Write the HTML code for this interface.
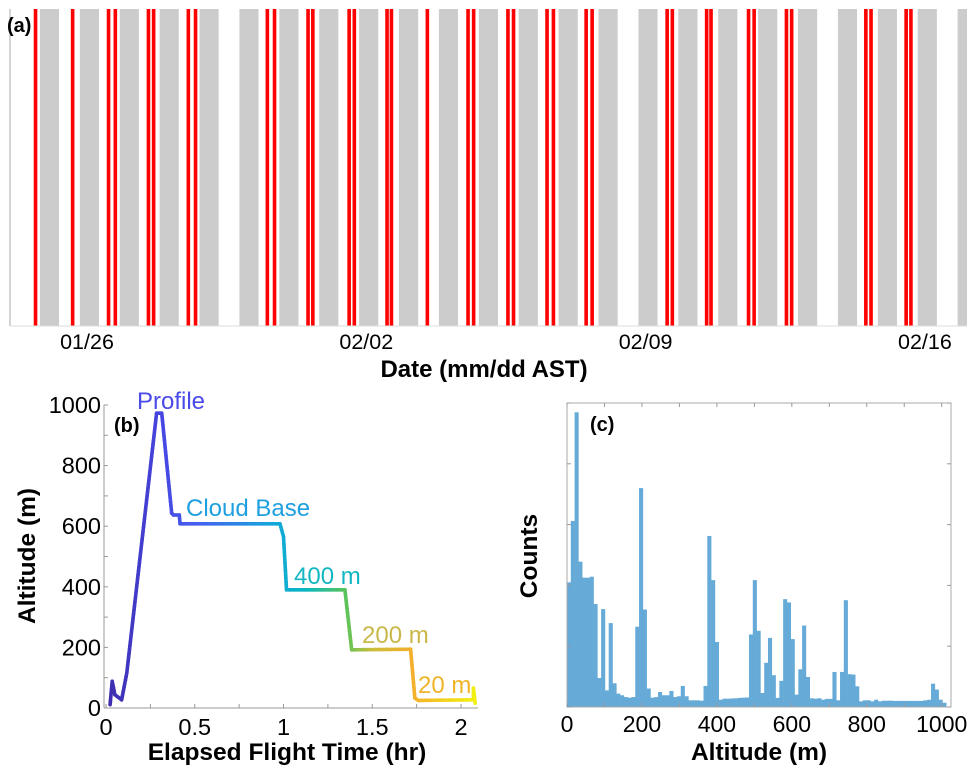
<!DOCTYPE html>
<html><head><meta charset="utf-8">
<style>
html,body{margin:0;padding:0;background:#fff;}
svg{display:block;font-family:"Liberation Sans",Arial,sans-serif;}
</style></head>
<body>
<svg id="fig" width="978" height="774" viewBox="0 0 978 774" xmlns="http://www.w3.org/2000/svg">
  <g id="pa"></g>
  <g id="pb"></g>
  <g id="pc"></g>
</svg>
<script>
// ---------- Panel (a) data: days relative to 01/26 00:00 ----------
const nightStarts = [-1.18,-0.18,0.82,1.82,2.82,3.82,4.82,5.82,6.82,7.82,8.82,9.82,10.82,11.82,12.82,13.82,14.82,15.82,16.82,17.82,18.82,19.82,20.82,21.82];
const nightDur = 0.48;
const flightTimes = [-1.29,-0.36,0.54,0.71,1.54,1.67,2.54,2.72,4.52,4.70,5.54,5.66,6.57,6.70,7.52,7.63,8.53,9.55,9.69,10.55,10.69,11.53,11.69,12.51,12.66,14.54,14.67,15.53,15.64,16.58,16.72,17.53,17.66,19.52,19.65,20.53,20.65];
const dateTickDays = [0,7,14,21];
const dateTickLabels = ["01/26","02/02","02/09","02/16"];

// ---------- Panel (b) data ----------
const flightHr = [0.023,0.035,0.05,0.088,0.09,0.117,0.285,0.314,0.37,0.38,0.413,0.417,0.98,1.0,1.017,1.346,1.384,1.716,1.74,1.76,2.07,2.07,2.08];
const flightAlt = [11,88,44,27,33,115,973,973,643,637,637,608,608,566,390,390,192,194,33,25,27,66,16];
const bXTicks = [0,0.5,1,1.5,2];
const bXTickLabels = ["0","0.5","1","1.5","2"];
const bYTicks = [0,200,400,600,800,1000];
const bYTickLabels = ["0","200","400","600","800","1000"];

// ---------- Panel (c) data ----------
const histCounts = [615,918,1454,717,638,638,643,508,143,483,82,414,117,66,58,49,46,49,396,1080,481,91,46,49,74,58,58,79,49,53,104,53,33,33,33,31,104,844,626,321,36,41,41,42,43,45,46,47,358,626,376,69,218,341,157,45,129,532,516,335,61,186,402,148,43,41,43,36,40,40,173,33,173,527,162,160,102,28,33,33,28,36,28,31,31,31,30,30,30,30,30,30,30,30,33,36,115,86,36,21];
const histBinWidth = 10.12;
const cXTicks = [0,200,400,600,800,1000];
const cXTickLabels = ["0","200","400","600","800","1000"];

const NS="http://www.w3.org/2000/svg";
function mk(parent,tag,attrs,text){const e=document.createElementNS(NS,tag);for(const k in attrs)e.setAttribute(k,attrs[k]);if(text!==undefined)e.textContent=text;parent.appendChild(e);return e;}

// ===== Panel A =====
(function(){
  const g=document.getElementById('pa');
  const L=10,R=967,T=9,B=326;
  const xA=d=>87+39.9*d;
  const clip=mk(g,'clipPath',{id:'clipA'});mk(clip,'rect',{x:L,y:T,width:R-L,height:B-T});
  const inner=mk(g,'g',{'clip-path':'url(#clipA)'});
  nightStarts.forEach(s=>{
    const r=mk(inner,'rect',{x:xA(s),y:T,width:xA(s+nightDur)-xA(s),height:B-T,fill:'#cccccc'});
    
    
  });
  flightTimes.forEach(s=>{
    const r=mk(inner,'rect',{x:xA(s)-1.8,y:T,width:3.6,height:B-T,fill:'#ff0000'});
    
    
  });
  mk(g,'line',{x1:L,y1:T,x2:L,y2:B,stroke:'#aaaaaa','stroke-width':1});
  mk(g,'line',{x1:L,y1:B,x2:R,y2:B,stroke:'#dddddd','stroke-width':1});
  dateTickDays.forEach((d,i)=>{
    const t=mk(g,'text',{x:xA(d),y:349,'font-size':21.5,'text-anchor':'middle',fill:'#000'},dateTickLabels[i]);
    
    
  });
  const at=mk(g,'text',{x:484,y:377,'font-size':24,'font-weight':'bold','text-anchor':'middle'},'Date (mm/dd AST)');
  
  
  const pl=mk(g,'text',{x:7,y:32,'font-size':20,'font-weight':'bold'},'(a)');
  
  
})();

// ===== Panel B =====
(function(){
  const g=document.getElementById('pb');
  const x=t=>106+177.5*t, y=a=>708-0.303*a;
  mk(g,'line',{x1:104,y1:405,x2:104,y2:708,stroke:'#999','stroke-width':1});
  mk(g,'line',{x1:104,y1:708,x2:478,y2:708,stroke:'#999','stroke-width':1});
  for(let a=0;a<=1000;a+=100) mk(g,'line',{x1:104,y1:y(a),x2:108,y2:y(a),stroke:'#999'});
  for(let t=0;t<=2;t+=0.25) mk(g,'line',{x1:x(t),y1:708,x2:x(t),y2:704,stroke:'#999'});
  bYTicks.forEach((v,i)=>{
    const e=mk(g,'text',{x:101,y:y(v)+8,'font-size':23.5,'text-anchor':'end'},bYTickLabels[i]);
    
    
  });
  bXTicks.forEach((v,i)=>{
    const e=mk(g,'text',{x:x(v),y:735,'font-size':23.5,'text-anchor':'middle'},bXTickLabels[i]);
    
    
  });
  const stops=[[0,[60,45,170]],[0.15,[70,70,225]],[0.25,[70,95,240]],[0.45,[20,165,220]],[0.55,[10,185,190]],[0.65,[90,195,90]],[0.72,[200,190,60]],[0.83,[245,175,45]],[1,[240,240,20]]];
  function col(f){for(let i=1;i<stops.length;i++){if(f<=stops[i][0]){const a=stops[i-1],b=stops[i],u=(f-a[0])/(b[0]-a[0]);return 'rgb('+a[1].map((c,k)=>Math.round(c+(b[1][k]-c)*u)).join(',')+')';}}return 'rgb(240,240,20)';}
  const curve=mk(g,'g',{});
  
  
  const tmax=flightHr[flightHr.length-1];
  for(let i=0;i<flightHr.length-1;i++){
    const n=Math.max(1,Math.ceil(Math.hypot(x(flightHr[i+1])-x(flightHr[i]),y(flightAlt[i+1])-y(flightAlt[i]))/4));
    for(let k=0;k<n;k++){
      const u0=k/n,u1=(k+1)/n;
      const t0=flightHr[i]+(flightHr[i+1]-flightHr[i])*u0,t1=flightHr[i]+(flightHr[i+1]-flightHr[i])*u1;
      const a0=flightAlt[i]+(flightAlt[i+1]-flightAlt[i])*u0,a1=flightAlt[i]+(flightAlt[i+1]-flightAlt[i])*u1;
      mk(curve,'line',{x1:x(t0),y1:y(a0),x2:x(t1),y2:y(a1),stroke:col((t0+t1)/2/tmax),'stroke-width':3.6,'stroke-linecap':'round'});
    }
  }
  const labels=[['Profile',137,409,'#4a4ae8'],['Cloud Base',186,516,'#1e9fe0'],['400 m',294,584,'#12b7c2'],['200 m',362,643,'#c9b848'],['20 m',418,693,'#f0b428']];
  labels.forEach(l=>{const e=mk(g,'text',{x:l[1],y:l[2],'font-size':24,fill:l[3]},l[0]);
    
    });
  const pl=mk(g,'text',{x:114,y:432,'font-size':20,'font-weight':'bold'},'(b)');
  
  
  const yt=mk(g,'text',{x:0,y:0,'font-size':24.5,'font-weight':'bold','text-anchor':'middle',transform:'translate(35,556) rotate(-90)'},'Altitude (m)');
  
  
  const xt=mk(g,'text',{x:287,y:760,'font-size':24.5,'font-weight':'bold','text-anchor':'middle'},'Elapsed Flight Time (hr)');
  
  
})();

// ===== Panel C =====
(function(){
  const g=document.getElementById('pc');
  const L=567,R=951,T=403,B=707;
  const x=m=>567+0.3747*m, y=c=>B-c*(B-T)/1500;
  histCounts.forEach((c,i)=>{
    const r=mk(g,'rect',{x:x(i*histBinWidth),y:y(c),width:x((i+1)*histBinWidth)-x(i*histBinWidth)+0.3,height:B-y(c),fill:'#66aad8'});
    
    
  });
  mk(g,'rect',{x:L,y:T,width:R-L,height:B-T,fill:'none',stroke:'#aaaaaa','stroke-width':1});
  for(let m=0;m<=1000;m+=100){mk(g,'line',{x1:x(m),y1:B,x2:x(m),y2:B-4,stroke:'#999'});mk(g,'line',{x1:x(m),y1:T,x2:x(m),y2:T+4,stroke:'#999'});}
  for(let c=0;c<=1500;c+=300){mk(g,'line',{x1:L,y1:y(c),x2:L+4,y2:y(c),stroke:'#999'});mk(g,'line',{x1:R,y1:y(c),x2:R-4,y2:y(c),stroke:'#999'});}
  cXTicks.forEach((v,i)=>{
    const e=mk(g,'text',{x:x(v),y:732,'font-size':23,'text-anchor':'middle'},cXTickLabels[i]);
    
    
  });
  const pl=mk(g,'text',{x:590,y:431,'font-size':20,'font-weight':'bold'},'(c)');
  
  
  const yt=mk(g,'text',{x:0,y:0,'font-size':24.5,'font-weight':'bold','text-anchor':'middle',transform:'translate(537,556) rotate(-90)'},'Counts');
  
  
  const xt=mk(g,'text',{x:759,y:760,'font-size':24.5,'font-weight':'bold','text-anchor':'middle'},'Altitude (m)');
  
  
})();
</script>
</body></html>
